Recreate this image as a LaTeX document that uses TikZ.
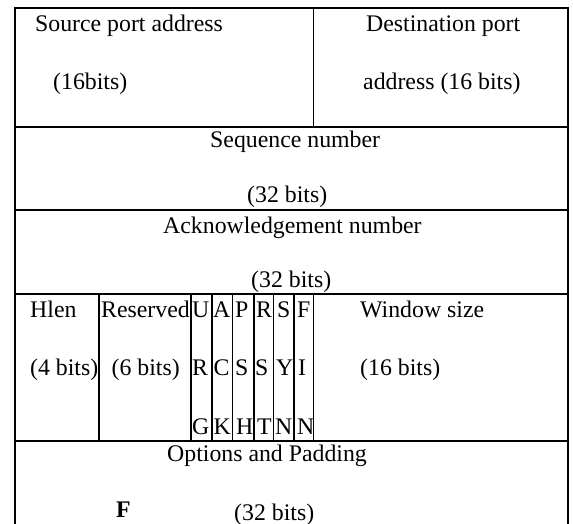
\documentclass[tikz,border=0pt]{standalone}
\usepackage{fontspec}
\setmainfont{Liberation Serif}
\begin{document}
\begin{tikzpicture}[x=1pt,y=-1pt,
  lbl/.style={anchor=base west, inner sep=0pt, font=\fontsize{23.8}{28}\selectfont},
  boldlbl/.style={lbl, font=\fontsize{23.8}{28}\selectfont\bfseries},
  frame/.style={line width=2.2pt, line join=miter},
  divider/.style={line width=1pt},
  fieldline/.style={line width=1.2pt},
  flagline/.style={line width=1.6pt}]
\useasboundingbox (0,0) rectangle (573,524);
\clip (0,0) rectangle (573,524);

% outer frame (open at the bottom) and row separators
\draw[frame] (15,530) -- (15,8) -- (568,8) -- (568,530);
\draw[frame] (15,127) -- (568,127);
\draw[frame] (15,210) -- (568,210);
\draw[frame] (15,294) -- (568,294);
\draw[frame] (15,441) -- (568,441);

% row 1: port fields
\draw[divider] (313,8) -- (313,127);
\node[lbl] (src)   at (35,32)  {Source port address};
\node[lbl] (srcb)  at (53,90)  {(16bits)};
\node[lbl] (dst)   at (366,32) {Destination port};
\node[lbl] (dstb)  at (363,90) {address (16 bits)};

% row 2: sequence number
\node[lbl] (seq)   at (210,148) {Sequence number};
\node[lbl] (seqb)  at (247,202) {(32 bits)};

% row 3: acknowledgement number
\node[lbl] (ack)   at (163,233) {Acknowledgement number};
\node[lbl] (ackb)  at (251,287) {(32 bits)};

% row 4: header length, reserved bits, flags, window
\draw[fieldline] (99,294) -- (99,441);
\foreach \fx in {190.7,211.7,232.5,254,273.5,294,313.3}
  \draw[flagline] (\fx,294) -- (\fx,441);

\node[lbl] (hlen)  at (30,317)  {Hlen};
\node[lbl] (hlenb) at (30,375)  {(4 bits)};
\node[lbl] (res)   at (101,317) {Reserved};
\node[lbl] (resb)  at (111.5,375) {(6 bits)};

\node[lbl] (u1) at (192,317) {U};
\node[lbl] (u2) at (192,375) {R};
\node[lbl] (u3) at (192,434) {G};
\node[lbl] (a1) at (213,317) {A};
\node[lbl] (a2) at (213.5,375) {C};
\node[lbl] (a3) at (213.5,434) {K};
\node[lbl] (p1) at (235,317) {P};
\node[lbl] (p2) at (235,375) {S};
\node[lbl] (p3) at (236,434) {H};
\node[lbl] (r1) at (256,317) {R};
\node[lbl] (r2) at (255,375) {S};
\node[lbl] (r3) at (257,434) {T};
\node[lbl] (s1) at (277,317) {S};
\node[lbl] (s2) at (276,375) {Y};
\node[lbl] (s3) at (275,434) {N};
\node[lbl] (f1) at (297,317) {F};
\node[lbl] (f2) at (298,375) {I};
\node[lbl] (f3) at (297,434) {N};

\node[lbl] (win)   at (360,317) {Window size};
\node[lbl] (winb)  at (360,375) {(16 bits)};

% row 5: options
\node[lbl] (opt)   at (167,461) {Options and Padding};
\node[boldlbl] (optf) at (116,517) {F};
\node[lbl] (optb)  at (234,520) {(32 bits)};
\end{tikzpicture}
\end{document}
